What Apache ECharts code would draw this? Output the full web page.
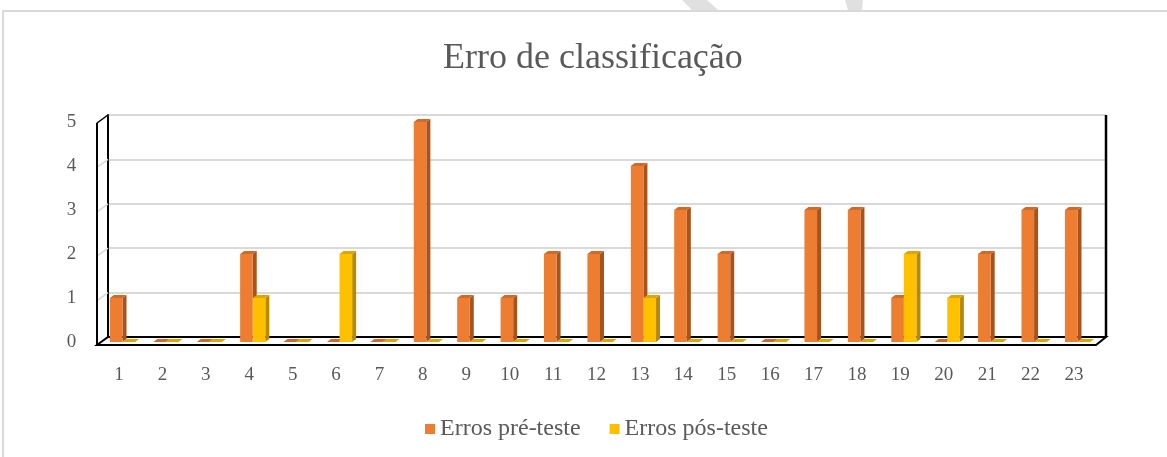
<!DOCTYPE html>
<html>
<head>
<meta charset="utf-8">
<script src="https://cdn.jsdelivr.net/npm/echarts@6/dist/echarts.min.js"></script>
<style>html,body{margin:0;padding:0;background:#fff;}#c{width:1167px;height:457px;}</style>
</head>
<body>
<div id="c"></div>
<script>
const categories = ['1','2','3','4','5','6','7','8','9','10','11','12','13','14','15','16','17','18','19','20','21','22','23'];
const preTest  = [1,0,0,2,0,0,0,5,1,1,2,2,4,3,2,0,3,3,1,0,2,3,3];
const postTest = [0,0,0,1,0,2,0,0,0,0,0,0,1,0,0,0,0,0,2,1,0,0,0];
const yTicks = [0,1,2,3,4,5];
const seriesNames = ['Erros pré-teste','Erros pós-teste'];

const chart = echarts.init(document.getElementById('c'));
const FONT = '"Liberation Serif","Times New Roman",serif';
const TXT = '#595959';

// layout constants (pixels)
const W = {backL:108, backR:1106, backT:115, backB:337, frontL:98, frontR:1096, frontB:345, frontT:123};
const pal = [
  {front:'#ED7D31', side:'#A9531C', top:'#CF6A2A'},
  {front:'#FFC000', side:'#B88A00', top:'#DDA600'}
];

function renderItem(params, api){
  const cat = api.value(0), v = api.value(1);
  const base = api.coord([cat, 0]);
  const top = api.coord([cat, v]);
  const bw = 12.6, off = 3.5, dx = 4, dy = -3;
  const s = params.seriesIndex;
  const c = pal[s];
  const x0 = base[0] + off + (s === 0 ? -bw : 0);
  const x1 = x0 + bw;
  const yb = base[1], yt = top[1];
  const children = [];
  if (v > 0) {
    children.push({type:'polygon', shape:{points:[[x1,yt],[x1+dx,yt+dy],[x1+dx,yb+dy],[x1,yb]]}, style:{fill:c.side}});
    children.push({type:'rect', shape:{x:x0, y:yt, width:bw, height:yb-yt}, style:{fill:c.front}});
  }
  children.push({type:'polygon', shape:{points:[[x0,yt],[x1,yt],[x1+dx,yt+dy],[x0+dx,yt+dy]]}, style:{fill:c.top}});
  return {type:'group', children};
}

const option = {
  animation:false,
  backgroundColor:'#fff',
  title:{text:'Erro de classificação', left:438, top:36,
    textStyle:{fontFamily:FONT, fontSize:36, fontWeight:'normal', color:TXT}},
  legend:{left:420, top:412, icon:'rect', itemWidth:10, itemHeight:10, itemGap:29,
    data:seriesNames, textStyle:{fontFamily:FONT, fontSize:24, color:TXT}},
  grid:[
    {left:W.backL, right:1167-W.backR, top:W.backT, bottom:457-W.backB},
    {left:97.3, right:1167-1095.7, top:122, bottom:457-342}
  ],
  xAxis:[
    {gridIndex:0, type:'value', show:false, min:0, max:1},
    {gridIndex:1, type:'category', data:categories, axisLine:{show:false}, axisTick:{show:false},
      axisLabel:{fontFamily:FONT, fontSize:19, color:TXT, margin:24}}
  ],
  yAxis:[
    {gridIndex:0, type:'value', min:0, max:5, interval:1,
      axisLine:{show:true, lineStyle:{color:'#000', width:2}}, axisTick:{show:false}, axisLabel:{show:false},
      splitLine:{show:true, lineStyle:{color:'#D9D9D9', width:2}}},
    {gridIndex:1, type:'value', min:0, max:5, interval:1, data:yTicks,
      axisLine:{show:false}, axisTick:{show:false}, splitLine:{show:false},
      axisLabel:{fontFamily:FONT, fontSize:19, color:TXT, margin:21}}
  ],
  series:[
    {name:seriesNames[0], type:'custom', xAxisIndex:1, yAxisIndex:1, renderItem,
      itemStyle:{color:pal[0].front}, data:preTest.map((v,i)=>[i,v]), z:3},
    {name:seriesNames[1], type:'custom', xAxisIndex:1, yAxisIndex:1, renderItem,
      itemStyle:{color:pal[1].front}, data:postTest.map((v,i)=>[i,v]), z:4}
  ],
  graphic:[
    {type:'rect', shape:{x:3, y:11, width:1180, height:470}, style:{fill:null, stroke:'#D9D9D9', lineWidth:2}, z:0},
    {type:'polygon', shape:{points:[[682,0],[707,0],[718,10],[692,10]]}, style:{fill:'#E0E0E0'}, z:0},
    {type:'polygon', shape:{points:[[845,0],[863,0],[862,10],[848,10]]}, style:{fill:'#E0E0E0'}, z:0},
    ...yTicks.slice(1).map(t => {
      const yb = W.backB - t*(W.backB-W.backT)/5;
      const yf = W.frontB - t*(W.frontB-W.frontT)/5;
      return {type:'line', shape:{x1:W.frontL-1, y1:yf, x2:W.backL, y2:yb}, style:{stroke:'#D9D9D9', lineWidth:1.5}, z:1};
    }),
    {type:'line', shape:{x1:W.backR, y1:W.backT, x2:W.backR, y2:W.backB}, style:{stroke:'#000', lineWidth:2.5}, z:2},
    {type:'line', shape:{x1:W.frontL-1, y1:W.frontT, x2:W.frontL-1, y2:W.frontB}, style:{stroke:'#000', lineWidth:2}, z:2},
    {type:'line', shape:{x1:W.frontL-1, y1:W.frontT, x2:W.backL, y2:W.backT}, style:{stroke:'#000', lineWidth:1.5}, z:2},
    {type:'polygon', shape:{points:[[W.backL,W.backB],[W.backR,W.backB],[W.frontR,W.frontB],[W.frontL-1,W.frontB]]},
      style:{fill:null, stroke:'#000', lineWidth:2}, z:2}
  ]
};
chart.setOption(option);
</script>
</body>
</html>
